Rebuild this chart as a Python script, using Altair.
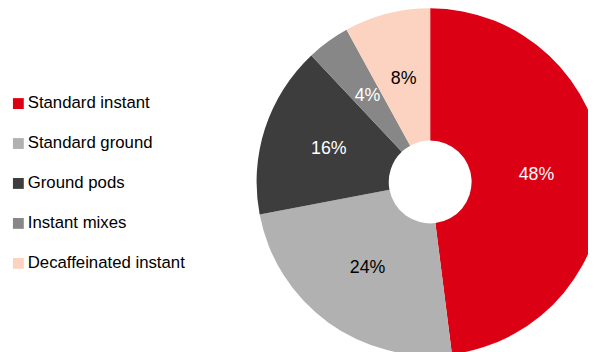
import altair as alt
import pandas as pd

categories = ["Standard instant", "Standard ground", "Ground pods", "Instant mixes", "Decaffeinated instant"]
shares = [48, 24, 16, 4, 8]
colors = ["#DC0014", "#B1B1B1", "#3D3D3D", "#878787", "#FCD3C1"]
label_colors = ["#FFFFFF", "#000000", "#FFFFFF", "#FFFFFF", "#000000"]

df = pd.DataFrame({
    "category": categories,
    "share": shares,
    "order": list(range(len(categories))),
    "label": [f"{v}%" for v in shares],
    "lc": label_colors,
})

FONT = "Liberation Sans"
CX, CY = 428, 174

base = alt.Chart(df).encode(
    theta=alt.Theta("share:Q", stack=True),
    order=alt.Order("order:Q"),
)

arcs = base.mark_arc(innerRadius=42, outerRadius=176).encode(
    color=alt.Color(
        "category:N",
        scale=alt.Scale(domain=categories, range=colors),
        sort=categories,
        legend=alt.Legend(
            title=None,
            orient="none",
            legendX=2,
            legendY=86,
            symbolType="square",
            symbolSize=121,
            symbolStrokeWidth=0,
            labelFont=FONT,
            labelFontSize=17,
            labelColor="#000000",
            labelOffset=1,
            rowPadding=22.5,
            labelLimit=300,
        ),
    ),
    x=alt.value(CX),
    y=alt.value(CY),
)

labels = base.mark_text(radius=108, fontSize=18, font=FONT).encode(
    text="label:N",
    color=alt.Color("lc:N", scale=None),
    x=alt.value(CX),
    y=alt.value(CY),
)

chart = (
    alt.layer(arcs, labels)
    .properties(width=588, height=344, padding=0, autosize=alt.AutoSizeParams(type="none"))
    .configure_view(stroke=None)
)

chart.save("out.html", embed_options={"renderer": "svg", "actions": False})
